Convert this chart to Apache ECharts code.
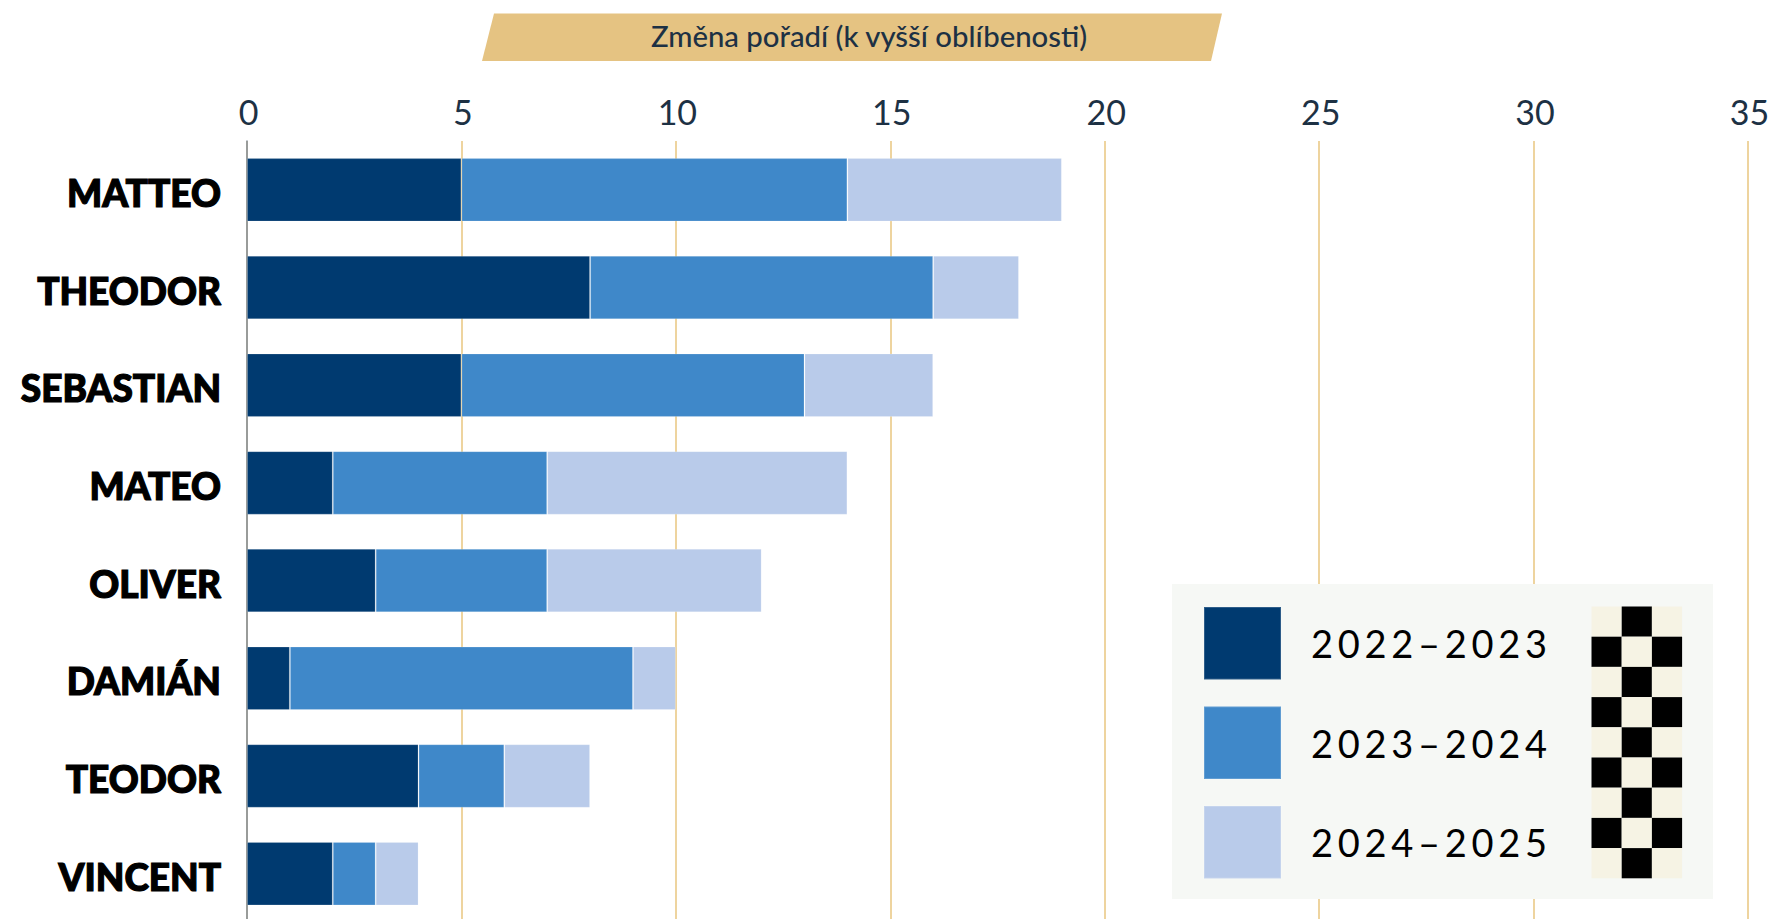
<!DOCTYPE html>
<html>
<head>
<meta charset="utf-8">
<style>
html,body{margin:0;padding:0;background:#fff;overflow:hidden}
#chart{width:1771px;height:919px}
#chart text[style*="Noto Sans"]{letter-spacing:4.7px}
</style>
<script src="https://cdn.jsdelivr.net/npm/echarts@6/dist/echarts.min.js"></script>
</head>
<body>
<div id="chart"></div>
<script>
const categories = ['MATTEO','THEODOR','SEBASTIAN','MATEO','OLIVER','DAMIÁN','TEODOR','VINCENT'];
const season2022 = [5,8,5,2,3,1,4,2];
const season2023 = [9,8,8,5,4,8,2,1];
const season2024 = [5,2,3,7,5,1,2,1];
const seasonNames = ['2022–2023','2023–2024','2024–2025'];
const seasonColors = ['#003a70','#3f88c9','#b9cbea'];
const axisTitle = 'Změna pořadí (k vyšší oblíbenosti)';

const chart = echarts.init(document.getElementById('chart'), null, {renderer:'svg'});

const flagCells = [];
for (let r = 0; r < 9; r++) {
  for (let c = 0; c < 3; c++) {
    flagCells.push({
      type:'rect', z:6,
      shape:{x:1591.5 + c*30.2, y:606.5 + r*30.2, width:30.2, height:30.2},
      style:{fill:(r + c) % 2 === 1 ? '#000000' : '#f6f3e4'}
    });
  }
}

const values = [season2022, season2023, season2024];
chart.setOption({
  animation:false,
  grid:{left:247, top:141, width:1501, height:781.5, containLabel:false, outerBoundsMode:'none'},
  xAxis:{
    type:'value', position:'top', min:0, max:35, interval:5,
    axisLine:{show:false}, axisTick:{show:false},
    axisLabel:{margin:13, padding:[0,0,0,3], fontFamily:'Lato', fontSize:34, color:'#1d3144'},
    splitLine:{show:true, lineStyle:{color:'#eed49f', width:2}}
  },
  yAxis:{
    type:'category', inverse:true, data:categories,
    axisLine:{show:true, onZero:false, lineStyle:{color:'#7d8a98', width:1.5}},
    axisTick:{show:false},
    axisLabel:{margin:26, verticalAlign:'top', lineHeight:5, fontFamily:'Lato', fontWeight:900, fontSize:37, color:'#000000', textBorderColor:'#000000', textBorderWidth:1.2}
  },
  legend:{
    orient:'vertical', left:1203, top:606, padding:0, z:10,
    itemWidth:77, itemHeight:72.5, itemGap:25,
    icon:'rect', selectedMode:false,
    data:seasonNames,
    textStyle:{fontFamily:"Lato, 'Noto Sans'", fontSize:38, color:'#000000', padding:[0,0,0,25]}
  },
  series:seasonNames.map((name,i)=>({
    type:'bar', name, stack:'total', data:values[i], barWidth:'65%',
    itemStyle:{color:seasonColors[i], borderColor:'rgba(255,255,255,0.18)', borderWidth:1},
    emphasis:{disabled:true}
  })),
  graphic:[
    {type:'polygon', z:5, shape:{points:[[494,13.5],[1222,13.5],[1211,61],[482,61]]}, style:{fill:'#e5c382'}},
    {type:'text', z:6, x:869, y:35, style:{text:axisTitle, fontFamily:'Lato', fontSize:29.3, fontWeight:500, fill:'#1d3144', align:'center', verticalAlign:'middle'}},
    {type:'rect', z:5, shape:{x:1172,y:584,width:541,height:315}, style:{fill:'#f6f8f5'}},
    ...flagCells
  ]
});
</script>
</body>
</html>
